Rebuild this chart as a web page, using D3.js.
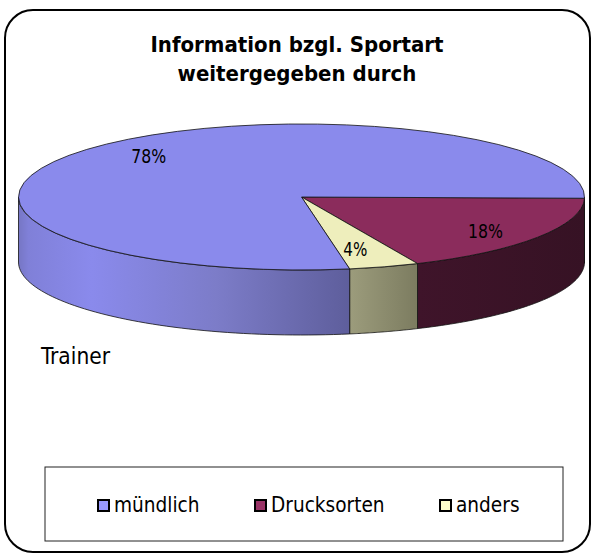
<!DOCTYPE html>
<html><head><meta charset="utf-8">
<script src="https://cdn.jsdelivr.net/npm/d3@7"></script>
<style>html,body{margin:0;padding:0;background:#fff}svg{display:block}text{font-family:"DejaVu Sans Condensed","DejaVu Sans",sans-serif;fill:#000}</style>
</head><body><svg id="c" width="593" height="557"></svg>
<script>
const titleLines = ["Information bzgl. Sportart", "weitergegeben durch"];
const categories = ["Drucksorten", "anders", "mündlich"];
const values = [18, 4, 78];
const labels = ["18%", "4%", "78%"];
const legendOrder = ["mündlich", "Drucksorten", "anders"];
const topColors = ["#8b2c5c", "#eeeebc", "#8a8aec"];
const legendColors = ["#993366", "#ffffcc", "#9999ff"];
const wallStops = [
  [[0, "#3f142a"], [1, "#361224"]],
  [[0, "#9c9c7c"], [1, "#7c7c60"]],
  [[0, "#7676c4"], [0.03, "#8080d8"], [0.22, "#8a8aec"], [0.6, "#7c7cc8"], [1, "#5e5e9c"]]
];
const note = "Trainer";

const svg = d3.select("#c");
const cx = 301.5, cy = 197, rx = 283, ry = 73, depth = 65;
const rotation = Math.PI / 180;

svg.append("rect").attr("x", 5).attr("y", 10).attr("width", 585).attr("height", 542)
  .attr("rx", 28).attr("fill", "#fff").attr("stroke", "#000").attr("stroke-width", 2);

const title = svg.append("text").attr("text-anchor", "middle")
  .attr("font-weight", "bold").attr("font-size", 22);
titleLines.forEach((t, i) => title.append("tspan").attr("x", 297).attr("y", 52 + i * 29).text(t));

const start = Math.PI / 2 + rotation;
const pie = d3.pie().sort(null).startAngle(start).endAngle(start + Math.PI * 2)(values);
const X = d3.scaleLinear().domain([-1, 1]).range([cx - rx, cx + rx]);
const Y = d3.scaleLinear().domain([-1, 1]).range([cy - ry, cy + ry]);

const defs = svg.append("defs");
const wall = (a0, a1, dy) => d3.range(0, 61).map(i => {
  const a = a0 + (a1 - a0) * i / 60;
  return [X(Math.sin(a)), Y(-Math.cos(a)) + dy];
});
const line = d3.line();

// right-hand rim of the wall between the pie's extreme point and the first slice edge
const rimTop = wall(Math.PI / 2, start, 0), rimBot = wall(Math.PI / 2, start, depth).reverse();
svg.append("path").attr("d", line(rimTop.concat(rimBot)) + "Z").attr("fill", wallStops[0][1][1]).attr("stroke", "#111").attr("stroke-width", 0.8);

pie.forEach((d, i) => {
  const a0 = d.startAngle, a1 = Math.min(d.endAngle, Math.PI * 1.5);
  if (a1 <= a0) return;
  const top = wall(a0, a1, 0), bot = wall(a0, a1, depth).reverse();
  const xs = top.map(p => p[0]);
  const g = defs.append("linearGradient").attr("id", "w" + i).attr("gradientUnits", "userSpaceOnUse")
    .attr("x1", d3.min(xs)).attr("x2", d3.max(xs)).attr("y1", 0).attr("y2", 0);
  wallStops[i].forEach(s => g.append("stop").attr("offset", s[0]).attr("stop-color", s[1]));
  svg.append("path").attr("d", line(top.concat(bot)) + "Z")
    .attr("fill", `url(#w${i})`).attr("stroke", "#111").attr("stroke-width", 0.8);
});

const arc = d3.arc().innerRadius(0).outerRadius(1);
const gTop = svg.append("g").attr("transform", `translate(${X(0)},${Y(0)}) scale(${rx},${ry})`);
gTop.selectAll("path").data(pie).join("path")
  .attr("d", arc)
  .attr("fill", (d, i) => topColors[i])
  .attr("stroke", "#111").attr("stroke-width", 0.8).attr("vector-effect", "non-scaling-stroke");

const labelAt = [[0.65, 0.47], [0.19, 0.72], [-0.54, -0.55]];
const labelW = [35, 24, 35];
labels.forEach((t, i) => svg.append("text").attr("text-anchor", "middle").attr("dominant-baseline", "central")
  .attr("font-size", 19.5).attr("x", X(labelAt[i][0])).attr("y", Y(labelAt[i][1]))
  .attr("textLength", labelW[i]).attr("lengthAdjust", "spacingAndGlyphs").text(t));

svg.append("text").attr("x", 41).attr("y", 364).attr("font-size", 22.5).text(note);

svg.append("rect").attr("x", 45).attr("y", 467).attr("width", 518).attr("height", 74)
  .attr("fill", "#fff").attr("stroke", "#222").attr("stroke-width", 1);
const legendX = d3.scaleOrdinal().domain(legendOrder).range([98, 255, 440]);
legendOrder.forEach(n => {
  const c = legendColors[categories.indexOf(n)];
  svg.append("rect").attr("x", legendX(n)).attr("y", 500).attr("width", 11).attr("height", 11)
    .attr("fill", c).attr("stroke", "#000").attr("stroke-width", 2);
  svg.append("text").attr("x", legendX(n) + 16).attr("y", 512).attr("font-size", 20.6).text(n);
});
</script></body></html>
